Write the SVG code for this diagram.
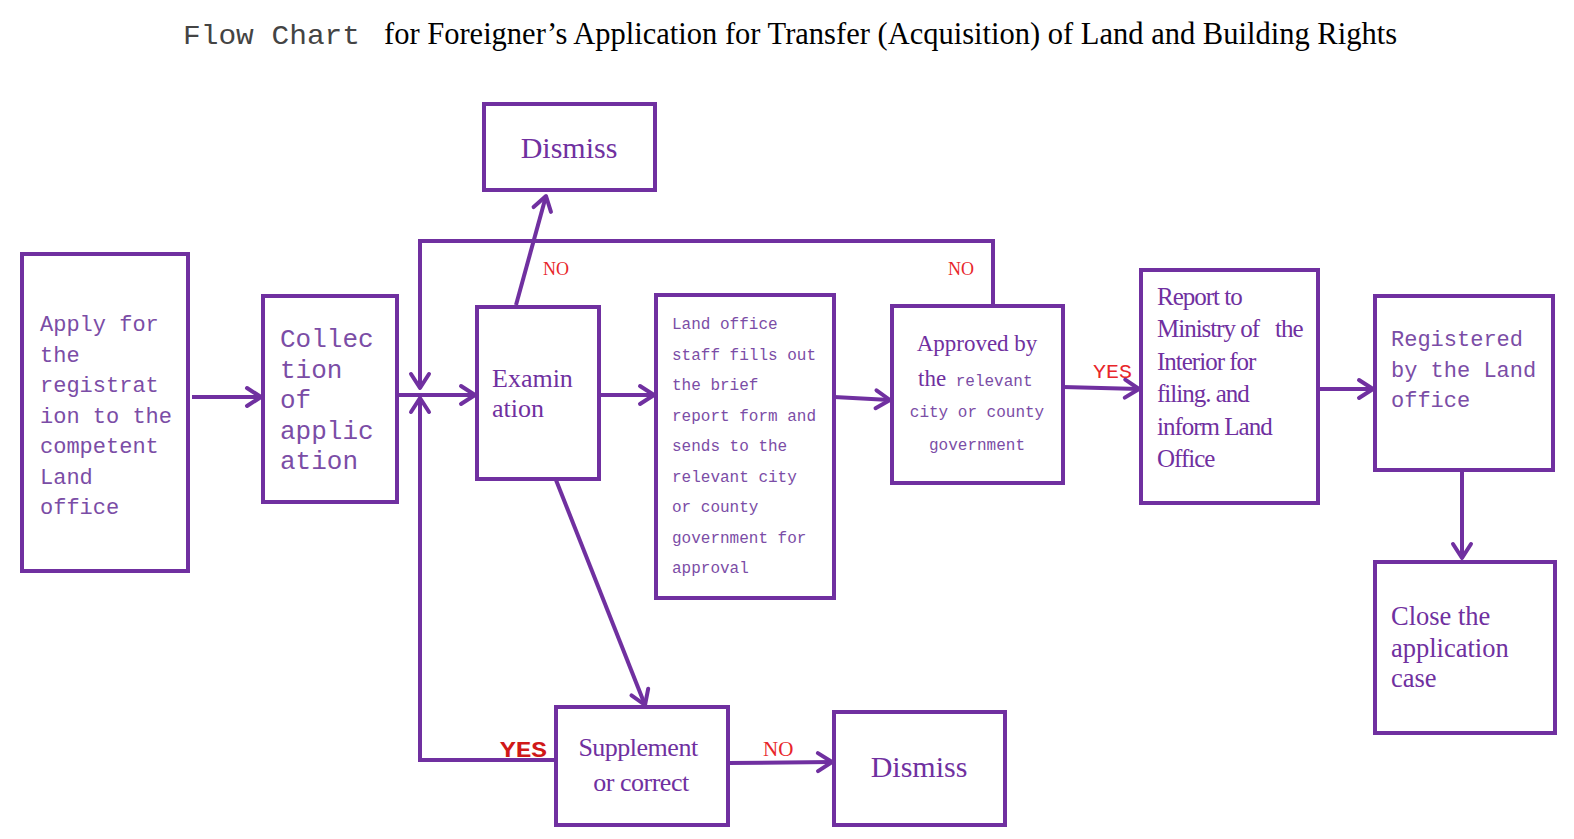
<svg xmlns="http://www.w3.org/2000/svg" width="1574" height="839" viewBox="0 0 1574 839">
<defs>
<marker id="arr" markerUnits="userSpaceOnUse" markerWidth="30" markerHeight="30" refX="0" refY="0" viewBox="-20 -15 30 30" orient="auto" overflow="visible">
<path d="M -14 -9 L 0 0 L -14 9" fill="none" stroke="#7030A0" stroke-width="4" stroke-linecap="round" stroke-linejoin="round"/>
</marker>
</defs>
<style>
.box{fill:#fff;stroke:#7030A0;stroke-width:4}
.ln{fill:none;stroke:#7030A0;stroke-width:4;stroke-linejoin:miter}
.mono{font-family:"Liberation Mono","Courier New",monospace;fill:#7B4DA6}
.serif{font-family:"Liberation Serif","Times New Roman",serif;fill:#7030A0}
.red{font-family:"Liberation Serif","Times New Roman",serif;fill:#E8262A}
.redm{font-family:"Liberation Mono","Courier New",monospace;fill:#E8262A}
</style>
<rect width="1574" height="839" fill="#fff"/>
<g id="title">
<text x="183" y="44" class="mono" style="fill:#444" font-size="28" textLength="177" lengthAdjust="spacingAndGlyphs">Flow Chart</text>
<text x="384" y="44" font-family="Liberation Serif, Times New Roman, serif" font-size="32" fill="#000" textLength="1013" lengthAdjust="spacingAndGlyphs">for Foreigner’s Application for Transfer (Acquisition) of Land and Building Rights</text>
</g>
<g id="connectors">
<line class="ln" x1="192" y1="397" x2="261" y2="397" marker-end="url(#arr)"/>
<line class="ln" x1="397" y1="395" x2="475" y2="395" marker-end="url(#arr)"/>
<line class="ln" x1="599" y1="395" x2="654" y2="395" marker-end="url(#arr)"/>
<line class="ln" x1="834" y1="397" x2="890" y2="400" marker-end="url(#arr)"/>
<line class="ln" x1="1063" y1="387" x2="1139" y2="389" marker-end="url(#arr)"/>
<line class="ln" x1="1318" y1="389" x2="1373" y2="389" marker-end="url(#arr)"/>
<line class="ln" x1="1462" y1="470" x2="1462" y2="558" marker-end="url(#arr)"/>
<line class="ln" x1="516" y1="305" x2="546" y2="196" marker-end="url(#arr)"/>
<line class="ln" x1="556" y1="480" x2="645" y2="705" marker-end="url(#arr)"/>
<polyline class="ln" points="993,305 993,241 420,241 420,388" marker-end="url(#arr)"/>
<polyline class="ln" points="556,760 420,760 420,398" marker-end="url(#arr)"/>
<line class="ln" x1="728" y1="763" x2="832" y2="762" marker-end="url(#arr)"/>
<text x="543" y="275" class="red" font-size="18">NO</text>
<text x="948" y="275" class="red" font-size="18">NO</text>
<text x="1093" y="378" class="redm" font-size="20" textLength="39" lengthAdjust="spacingAndGlyphs">YES</text>
<text x="500" y="757" class="redm" font-size="22" font-weight="bold" style="fill:#D01818" textLength="47" lengthAdjust="spacingAndGlyphs">YES</text>
<text x="763" y="756" class="red" font-size="21">NO</text>
</g>
<g id="apply">
<rect class="box" x="22" y="254" width="166" height="317"/>
<text class="mono" font-size="22">
<tspan x="40" y="331">Apply for</tspan>
<tspan x="40" y="361.5">the</tspan>
<tspan x="40" y="392">registrat</tspan>
<tspan x="40" y="422.5">ion to the</tspan>
<tspan x="40" y="453">competent</tspan>
<tspan x="40" y="483.5">Land</tspan>
<tspan x="40" y="514">office</tspan>
</text>
</g>
<g id="collection">
<rect class="box" x="263" y="296" width="134" height="206"/>
<text class="mono" font-size="26">
<tspan x="280" y="347">Collec</tspan>
<tspan x="280" y="377.5">tion</tspan>
<tspan x="280" y="408">of</tspan>
<tspan x="280" y="438.5">applic</tspan>
<tspan x="280" y="469">ation</tspan>
</text>
</g>
<g id="dismiss-top">
<rect class="box" x="484" y="104" width="171" height="86"/>
<text class="serif" x="569" y="158" font-size="30" text-anchor="middle">Dismiss</text>
</g>
<g id="examination">
<rect class="box" x="477" y="307" width="122" height="172"/>
<text class="serif" font-size="26">
<tspan x="492" y="387">Examin</tspan>
<tspan x="492" y="417">ation</tspan>
</text>
</g>
<g id="land-office">
<rect class="box" x="656" y="295" width="178" height="303"/>
<text class="mono" font-size="16">
<tspan x="672" y="329">Land office</tspan>
<tspan x="672" y="359.5">staff fills out</tspan>
<tspan x="672" y="390">the brief</tspan>
<tspan x="672" y="420.5">report form and</tspan>
<tspan x="672" y="451">sends to the</tspan>
<tspan x="672" y="481.5">relevant city</tspan>
<tspan x="672" y="512">or county</tspan>
<tspan x="672" y="542.5">government for</tspan>
<tspan x="672" y="573">approval</tspan>
</text>
</g>
<g id="approved">
<rect class="box" x="892" y="306" width="171" height="177"/>
<text class="serif" x="977" y="351" font-size="23" text-anchor="middle">Approved by</text>
<text x="918" y="386"><tspan class="serif" font-size="23">the</tspan><tspan class="mono" font-size="16"> relevant</tspan></text>
<text class="mono" x="977" y="417" font-size="16" text-anchor="middle">city or county</text>
<text class="mono" x="977" y="450" font-size="16" text-anchor="middle">government</text>
</g>
<g id="report">
<rect class="box" x="1141" y="270" width="177" height="233"/>
<text class="serif" font-size="25" letter-spacing="-1">
<tspan x="1157" y="305">Report to</tspan>
<tspan x="1157" y="337">Ministry of&#160;&#160; the</tspan>
<tspan x="1157" y="370">Interior for</tspan>
<tspan x="1157" y="402">filing. and</tspan>
<tspan x="1157" y="435">inform Land</tspan>
<tspan x="1157" y="467">Office</tspan>
</text>
</g>
<g id="registered">
<rect class="box" x="1375" y="296" width="178" height="174"/>
<text class="mono" font-size="22">
<tspan x="1391" y="346">Registered</tspan>
<tspan x="1391" y="377">by the Land</tspan>
<tspan x="1391" y="407">office</tspan>
</text>
</g>
<g id="close">
<rect class="box" x="1375" y="562" width="180" height="171"/>
<text class="serif" font-size="26.5">
<tspan x="1391" y="625">Close the</tspan>
<tspan x="1391" y="657">application</tspan>
<tspan x="1391" y="687">case</tspan>
</text>
</g>
<g id="supplement">
<rect class="box" x="556" y="707" width="172" height="118"/>
<text class="serif" font-size="26" text-anchor="middle" letter-spacing="-0.5">
<tspan x="641" y="756">Supplement</tspan>
<tspan x="641" y="791">or correct</tspan>
</text>
</g>
<g id="dismiss-bottom">
<rect class="box" x="834" y="712" width="171" height="113"/>
<text class="serif" x="919" y="777" font-size="30" text-anchor="middle">Dismiss</text>
</g>
</svg>
